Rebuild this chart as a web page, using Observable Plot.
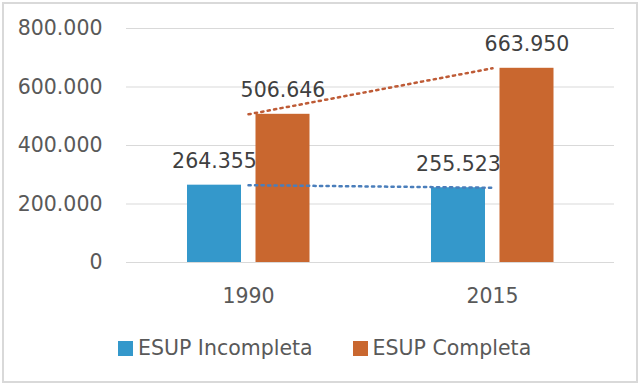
<!DOCTYPE html>
<html>
<head>
<meta charset="utf-8">
<script src="https://cdn.jsdelivr.net/npm/d3@7"></script>
<script src="https://cdn.jsdelivr.net/npm/@observablehq/plot@0.6"></script>
<style>
  html, body { margin: 0; padding: 0; background: #fff; }
  #wrap { position: relative; width: 640px; height: 385px; overflow: hidden; font-family: "DejaVu Sans", sans-serif; }
  #frame { position: absolute; left: 2px; top: 2px; width: 632px; height: 377px; border: 2px solid #d9d9d9; box-sizing: content-box; }
  #chart { position: absolute; left: 0; top: 0; }
  #legend { position: absolute; top: 336px; left: 118px; display: flex; align-items: center; font-size: 20.5px; color: #595959; }
  .item { display: flex; align-items: center; margin-right: 40px; }
  .sw { width: 15px; height: 15px; margin-right: 5px; }
</style>
</head>
<body>
<div id="wrap"><div id="frame"></div><div id="chart"></div><div id="legend"></div></div>
<script>
const years = ["1990", "2015"];
const series = ["ESUP Incompleta", "ESUP Completa"];
const incompleta = [264355, 255523];
const completa = [506646, 663950];
const yTicks = [0, 200000, 400000, 600000, 800000];
const barColors = ["#3498CB", "#C9672F"];
const trendColors = ["#4A7EBB", "#BE5B36"];

const data = years.flatMap((yr, i) => [
  {year: yr, series: series[0], value: incompleta[i]},
  {year: yr, series: series[1], value: completa[i]}
]);

const loc = d3.formatLocale({decimal: ",", thousands: ".", grouping: [3], currency: ["", ""]});
const fmt = loc.format(",d");

const offsets = [-34, 34.5];
const barMarks = series.map((s, k) => Plot.barY(data.filter(d => d.series === s), {
  x: "year", y: "value", fill: barColors[k], insetLeft: 95, insetRight: 95, dx: offsets[k]
}));
const trendMarks = series.map((s, k) => Plot.line(data.filter(d => d.series === s), {
  x: "year", y: "value", stroke: trendColors[k], strokeWidth: 2.5,
  strokeDasharray: "2.2,4.3"
}));
const labelMarks = series.map((s, k) => Plot.text(data.filter(d => d.series === s), {
  x: "year", y: "value", text: d => fmt(d.value), dx: offsets[k], dy: -17,
  lineAnchor: "bottom", fill: "#404040", fontSize: 20.5
}));

const chart = Plot.plot({
  width: 640, height: 320,
  marginLeft: 126, marginRight: 26, marginTop: 28, marginBottom: 58,
  style: {fontFamily: "DejaVu Sans, sans-serif", background: "transparent"},
  x: {domain: years, padding: 0},
  y: {domain: [0, 800000]},
  marks: [
    Plot.ruleY(yTicks, {stroke: "#d9d9d9", strokeWidth: 1}),
    ...barMarks,
    ...trendMarks,
    ...labelMarks,
    Plot.axisY({ticks: yTicks, tickFormat: fmt, tickSize: 0, tickPadding: 24, fontSize: 20.5, fill: "#595959", label: null}),
    Plot.axisX({tickSize: 0, tickPadding: 26, fontSize: 20.5, fill: "#595959", label: null})
  ]
});
document.getElementById("chart").appendChild(chart);

const legend = document.getElementById("legend");
series.forEach((s, k) => {
  const it = document.createElement("div");
  it.className = "item";
  const sw = document.createElement("div");
  sw.className = "sw";
  sw.style.background = barColors[k];
  const t = document.createElement("span");
  t.textContent = s;
  it.appendChild(sw); it.appendChild(t);
  legend.appendChild(it);
});
</script>
</body>
</html>
